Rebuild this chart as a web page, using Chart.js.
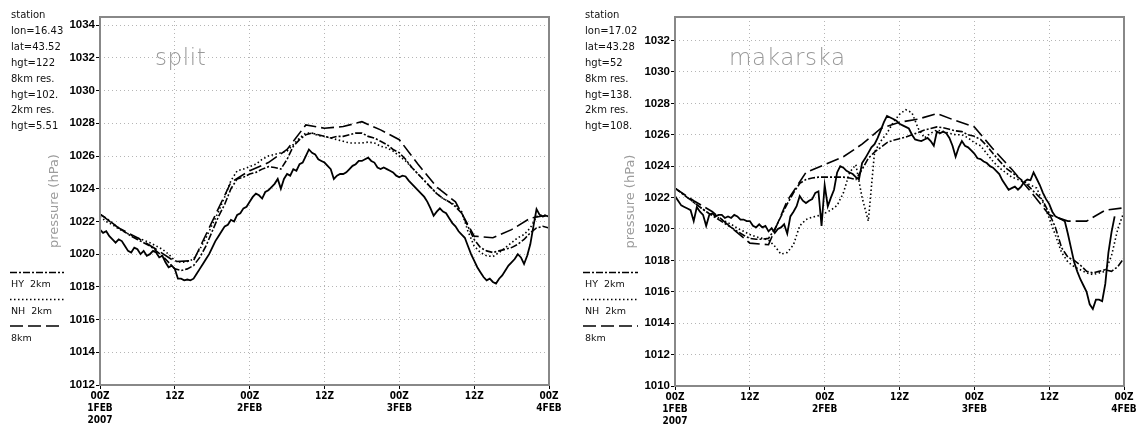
<!DOCTYPE html>
<html>
<head>
<meta charset="utf-8">
<script src="https://cdn.jsdelivr.net/npm/chart.js@4.4.0/dist/chart.umd.min.js"></script>
<style>
  body { margin: 0; background: #fff; }
  #wrap { position: relative; width: 1136px; height: 425px; overflow: hidden; font-family: "DejaVu Sans", sans-serif; }
  canvas { position: absolute; top: 0; }
  .info { position: absolute; top: 7px; font-size: 10px; line-height: 15.9px; color: #111; white-space: pre; }
  .lg { position: absolute; font-size: 9.5px; color: #111; line-height: 12px; }
  .ttl { position: absolute; top: 44px; font-size: 23px; color: #999; font-weight: 200; letter-spacing: 0.6px; }
  svg { position: absolute; left: 0; top: 0; overflow: visible; }
</style>
</head>
<body>
<div id="wrap">
  <canvas id="cSplit" width="568" height="425" style="left:0"></canvas>
  <canvas id="cMak" width="568" height="425" style="left:568px"></canvas>

  <div class="info" style="left:11px">station
lon=16.43
lat=43.52
hgt=122
8km res.
hgt=102.
2km res.
hgt=5.51</div>
  <div class="info" style="left:585px">station
lon=17.02
lat=43.28
hgt=52
8km res.
hgt=138.
2km res.
hgt=108.</div>

  <div class="ttl" style="left:155px">split</div>
  <div class="ttl" style="left:729px">makarska</div>

  <svg width="1136" height="425">
    <g stroke="#000" stroke-width="1.6" fill="none">
      <line x1="10" y1="272.5" x2="64" y2="272.5" stroke-dasharray="7 2 2 2"/>
      <line x1="10" y1="299.5" x2="64" y2="299.5" stroke-dasharray="1.5 2.5"/>
      <line x1="10" y1="326" x2="64" y2="326" stroke-dasharray="13 5"/>
      <line x1="583" y1="272.5" x2="638" y2="272.5" stroke-dasharray="7 2 2 2"/>
      <line x1="583" y1="299.5" x2="638" y2="299.5" stroke-dasharray="1.5 2.5"/>
      <line x1="583" y1="326" x2="638" y2="326" stroke-dasharray="13 5"/>
    </g>
  </svg>
  <div class="lg" style="left:11px;top:278px">HY&nbsp;&nbsp;2km</div>
  <div class="lg" style="left:11px;top:305px">NH&nbsp;&nbsp;2km</div>
  <div class="lg" style="left:11px;top:332px">8km</div>
  <div class="lg" style="left:585px;top:278px">HY&nbsp;&nbsp;2km</div>
  <div class="lg" style="left:585px;top:305px">NH&nbsp;&nbsp;2km</div>
  <div class="lg" style="left:585px;top:332px">8km</div>
</div>

<script>
// x axis: hours since 00Z 1 FEB 2007
const xTicks = [0, 12, 24, 36, 48, 60, 72];
const xTickLabels = [['00Z', '1FEB', '2007'], ['12Z'], ['00Z', '2FEB'], ['12Z'], ['00Z', '3FEB'], ['12Z'], ['00Z', '4FEB']];

const ySplitTicks = [1012, 1014, 1016, 1018, 1020, 1022, 1024, 1026, 1028, 1030, 1032, 1034];
const yMakTicks = [1010, 1012, 1014, 1016, 1018, 1020, 1022, 1024, 1026, 1028, 1030, 1032];

// ---- split ----
// observed, every 30 min
const splitObs = [
  1021.5, 1021.3, 1021.4, 1021.1, 1020.9, 1020.7, 1020.9, 1020.8, 1020.5, 1020.2,
  1020.1, 1020.4, 1020.3, 1020.0, 1020.2, 1019.9, 1020.0, 1020.2, 1020.1, 1019.8,
  1019.9, 1019.5, 1019.2, 1019.3, 1019.1, 1018.5, 1018.5, 1018.4, 1018.45, 1018.4,
  1018.5, 1018.8, 1019.1, 1019.4, 1019.7, 1020.0, 1020.4, 1020.8, 1021.1, 1021.4,
  1021.7, 1021.8, 1022.1, 1022.0, 1022.4, 1022.5, 1022.8, 1022.9, 1023.2, 1023.5,
  1023.7, 1023.6, 1023.4, 1023.8, 1023.9, 1024.1, 1024.3, 1024.6, 1024.0, 1024.6,
  1024.9, 1024.8, 1025.2, 1025.1, 1025.5, 1025.6, 1026.0, 1026.4, 1026.2, 1026.1,
  1025.8, 1025.7, 1025.6, 1025.4, 1025.2, 1024.6, 1024.8, 1024.9, 1024.9, 1025.0,
  1025.2, 1025.4, 1025.5, 1025.7, 1025.7, 1025.8, 1025.9, 1025.7, 1025.6, 1025.3,
  1025.2, 1025.3, 1025.2, 1025.1, 1025.0, 1024.8, 1024.7, 1024.8, 1024.75, 1024.5,
  1024.3, 1024.1, 1023.9, 1023.7, 1023.5, 1023.2, 1022.8, 1022.35, 1022.6, 1022.8,
  1022.6, 1022.5, 1022.2, 1021.9, 1021.7, 1021.4, 1021.2, 1021.0, 1020.5, 1020.0,
  1019.6, 1019.2, 1018.9, 1018.6, 1018.4, 1018.5, 1018.3, 1018.2, 1018.5, 1018.7,
  1019.0, 1019.3, 1019.5, 1019.7, 1020.0, 1019.8, 1019.4, 1019.9, 1020.6, 1021.7,
  1022.75, 1022.4, 1022.3, 1022.35, 1022.3
];
// HY 2km, hourly
const splitHY = [
  1022.45, 1022.2, 1021.9, 1021.6, 1021.35, 1021.1, 1020.9, 1020.7, 1020.5, 1020.2,
  1019.9, 1019.5, 1019.1, 1019.0, 1019.1, 1019.3, 1019.8, 1020.5, 1021.4, 1022.3,
  1023.05, 1024.0, 1024.6, 1024.7, 1024.9, 1025.0, 1025.2, 1025.35, 1025.3, 1025.2,
  1025.8, 1026.6, 1027.0, 1027.3, 1027.4, 1027.3, 1027.2, 1027.1, 1027.2, 1027.2,
  1027.3, 1027.4, 1027.4, 1027.2, 1027.1, 1026.9, 1026.7, 1026.4, 1026.2, 1025.8,
  1025.3, 1024.9, 1024.5, 1024.1, 1023.7, 1023.4, 1023.2, 1022.9, 1022.5, 1021.7,
  1020.9, 1020.4, 1020.2, 1020.1, 1020.2, 1020.3, 1020.4, 1020.6, 1020.9, 1021.3,
  1021.6, 1021.7, 1021.6
];
// NH 2km, hourly
const splitNH = [
  1022.3, 1022.0, 1021.8, 1021.55, 1021.35, 1021.15, 1021.0, 1020.85, 1020.7, 1020.5,
  1020.3, 1020.0, 1019.6, 1019.5, 1019.55, 1019.7, 1020.3, 1021.0, 1021.8, 1022.6,
  1023.5, 1024.5, 1025.1, 1025.2, 1025.35, 1025.5, 1025.8, 1026.0, 1026.1, 1026.2,
  1026.3, 1026.7, 1027.1, 1027.4, 1027.4, 1027.25, 1027.2, 1027.1, 1027.0, 1026.9,
  1026.8, 1026.8, 1026.8, 1026.85, 1026.8, 1026.6, 1026.5, 1026.3, 1026.0, 1025.7,
  1025.3, 1024.9, 1024.5, 1024.1, 1023.7, 1023.4, 1023.2, 1023.0, 1022.6, 1021.4,
  1020.5, 1020.1, 1019.9, 1019.85, 1020.1, 1020.4, 1020.7, 1021.0, 1021.2, 1021.6,
  1022.3, 1022.4, 1022.35
];
// 8km, every 3 h
const split8km = [
  1022.45, 1021.6, 1021.0, 1020.3, 1019.55, 1019.6, 1022.0, 1024.4, 1025.1, 1025.6,
  1026.4, 1027.9, 1027.7, 1027.8, 1028.1, 1027.6, 1027.0, 1025.5, 1024.1, 1023.2,
  1021.1, 1021.0, 1021.5, 1022.2, 1022.4
];

// ---- makarska ----
const makObs = [
  1022.1, 1021.8, 1021.5, 1021.4, 1021.3, 1021.2, 1020.5, 1021.4, 1021.1, 1020.9,
  1020.2, 1020.9, 1021.0, 1020.8, 1020.9, 1020.9, 1020.7, 1020.8, 1020.7, 1020.9,
  1020.8, 1020.6, 1020.6, 1020.5, 1020.5, 1020.2, 1020.1, 1020.3, 1020.1, 1020.2,
  1019.85, 1020.05, 1019.75, 1020.0, 1020.1, 1020.3, 1019.7, 1020.8, 1021.1, 1021.45,
  1022.1, 1021.8, 1021.65, 1021.8, 1021.9, 1022.3, 1022.4, 1020.2, 1022.8, 1021.45,
  1022.0, 1022.5, 1023.6, 1024.0, 1023.9, 1023.7, 1023.6, 1023.5, 1023.3, 1023.15,
  1024.2, 1024.5, 1024.85, 1025.2, 1025.4, 1025.8, 1026.3, 1026.8, 1027.2, 1027.1,
  1027.0, 1026.9, 1026.7, 1026.6, 1026.5, 1026.4, 1026.0, 1025.7, 1025.65, 1025.6,
  1025.7, 1025.8, 1025.6, 1025.3, 1026.2, 1026.1, 1026.2, 1026.1, 1025.8, 1025.3,
  1024.6, 1025.2, 1025.6, 1025.3, 1025.2, 1025.0, 1024.8, 1024.5, 1024.45, 1024.3,
  1024.2, 1024.0, 1023.9, 1023.7, 1023.5, 1023.1, 1022.8, 1022.5, 1022.6, 1022.7,
  1022.5, 1022.7, 1023.0, 1023.15, 1023.1, 1023.6, 1023.2, 1022.8, 1022.3, 1021.9,
  1021.6, 1021.1, 1020.8, 1020.7, 1020.6, 1020.5, 1019.7, 1018.8, 1017.9, 1017.3,
  1016.8, 1016.4, 1016.0, 1015.2, 1014.9, 1015.5, 1015.5, 1015.4, 1016.5, 1018.5,
  1019.8, 1020.8
];
const makHY = [
  1022.6, 1022.3, 1022.0, 1021.7, 1021.4, 1021.1, 1020.85, 1020.6, 1020.35, 1020.1,
  1019.85, 1019.6, 1019.4, 1019.35, 1019.35, 1019.4, 1020.0, 1020.8, 1021.6, 1022.3,
  1022.9, 1023.15, 1023.25, 1023.3, 1023.3, 1023.3, 1023.3, 1023.3, 1023.25, 1023.15,
  1023.8, 1024.5, 1024.9, 1025.2, 1025.5, 1025.65, 1025.75, 1025.85, 1026.0, 1026.15,
  1026.3, 1026.4, 1026.5, 1026.45, 1026.35, 1026.25, 1026.2, 1026.0, 1025.9, 1025.7,
  1025.3, 1024.8, 1024.35, 1023.9, 1023.6, 1023.3, 1023.0, 1022.6, 1022.2, 1021.8,
  1021.0, 1020.1, 1018.8, 1018.2, 1018.0, 1017.7, 1017.3, 1017.2, 1017.3, 1017.4,
  1017.3, 1017.6, 1018.15
];
const makNH = [
  1022.6, 1022.3, 1022.0, 1021.7, 1021.4, 1021.1, 1020.9, 1020.7, 1020.5, 1020.3,
  1020.05, 1019.85, 1019.65, 1019.5, 1019.4, 1019.3, 1018.9, 1018.4, 1018.5, 1019.0,
  1020.2, 1020.6, 1020.75, 1020.85, 1021.0, 1021.2, 1021.5, 1022.3, 1023.6, 1024.1,
  1022.0, 1020.5, 1024.9, 1025.6, 1026.1, 1026.8, 1027.3, 1027.6, 1027.4, 1026.4,
  1025.8, 1026.1, 1026.3, 1026.2, 1026.1, 1026.0, 1026.0, 1025.8, 1025.5, 1025.3,
  1024.8, 1024.3, 1023.9, 1023.6, 1023.3, 1023.15, 1023.0, 1022.8, 1022.6, 1021.7,
  1020.7, 1019.6, 1018.5, 1017.9, 1017.6, 1017.4, 1017.2, 1017.1, 1017.2, 1017.3,
  1018.3, 1020.0, 1021.1
];
const mak8km = [
  1022.6, 1021.8, 1021.1, 1020.1, 1019.1, 1019.0, 1021.8, 1023.6, 1024.1, 1024.6,
  1025.4, 1026.4, 1026.8, 1027.0, 1027.35, 1026.9, 1026.5, 1025.1, 1023.8, 1022.4,
  1020.9, 1020.5, 1020.5, 1021.2, 1021.35
];

// values -> {x: hour, y}
function series(values, stepHours) {
  return values.map((v, i) => ({ x: i * stepHours, y: v }));
}

function lineSet(label, data, dash, width) {
  return {
    label, data,
    borderColor: '#000',
    borderWidth: width,
    borderDash: dash,
    pointRadius: 0,
    tension: 0,
    fill: false
  };
}

const framePlugin = {
  id: 'frame',
  afterDatasetsDraw(chart) {
    const { ctx, chartArea: a } = chart;
    ctx.save();
    ctx.strokeStyle = '#888';
    ctx.lineWidth = 2;
    ctx.strokeRect(a.left, a.top, a.right - a.left, a.bottom - a.top);
    ctx.restore();
  }
};

function makeChart(id, d, opt) {
  new Chart(document.getElementById(id), {
    type: 'line',
    data: {
      datasets: [
        lineSet('obs', series(d.obs, 0.5), [], 1.8),
        lineSet('HY 2km', series(d.hy, 1), [7, 2, 2, 2], 1.6),
        lineSet('NH 2km', series(d.nh, 1), [1.5, 2.5], 1.6),
        lineSet('8km', series(d.km8, 3), [13, 5], 1.6)
      ]
    },
    options: {
      responsive: false,
      animation: false,
      devicePixelRatio: 1,
      layout: { padding: { left: 0, top: 17, right: opt.padRight, bottom: 0 } },
      plugins: { legend: { display: false }, tooltip: { enabled: false } },
      scales: {
        x: {
          type: 'linear',
          min: 0, max: 72,
          afterBuildTicks: s => { s.ticks = xTicks.map(v => ({ value: v })); },
          afterFit: s => { s.height = opt.xHeight; s.paddingLeft = 0; s.paddingRight = 0; },
          ticks: {
            autoSkip: false, maxRotation: 0, padding: 1, color: '#000',
            font: { family: '"Liberation Sans Narrow", "DejaVu Sans Condensed", sans-serif', size: 10, weight: 'bold', lineHeight: 1.2 },
            callback: v => xTickLabels[xTicks.indexOf(v)]
          },
          grid: { color: '#b5b5b5', lineWidth: 1, tickLength: 4, tickColor: '#000', tickWidth: 1 },
          border: { display: false, dash: [1, 3] }
        },
        y: {
          type: 'linear',
          min: opt.yMin, max: opt.yMax,
          afterBuildTicks: s => { s.ticks = opt.yTicks.map(v => ({ value: v })); },
          afterFit: s => { s.width = opt.yWidth; },
          ticks: {
            padding: 1, color: '#000',
            font: { family: '"Liberation Sans", Arial, sans-serif', size: 11.5, weight: 'bold' },
            callback: v => String(v)
          },
          grid: { color: '#b5b5b5', lineWidth: 1, tickLength: 4, tickColor: '#000', tickWidth: 1 },
          border: { display: false, dash: [1, 3] },
          title: {
            display: true,
            text: 'pressure (hPa)',
            color: '#9c9c9c',
            font: { family: '"DejaVu Sans", sans-serif', size: 13 },
            padding: { top: opt.titlePad, bottom: 0 }
          }
        }
      }
    },
    plugins: [framePlugin]
  });
}

makeChart('cSplit',
  { obs: splitObs, hy: splitHY, nh: splitNH, km8: split8km },
  { yMin: 1012, yMax: 1034.5, yTicks: ySplitTicks, yWidth: 100, padRight: 19, xHeight: 40, titlePad: 47 });

makeChart('cMak',
  { obs: makObs, hy: makHY, nh: makNH, km8: mak8km },
  { yMin: 1010, yMax: 1033.5, yTicks: yMakTicks, yWidth: 107, padRight: 12, xHeight: 39, titlePad: 55 });
</script>
</body>
</html>
